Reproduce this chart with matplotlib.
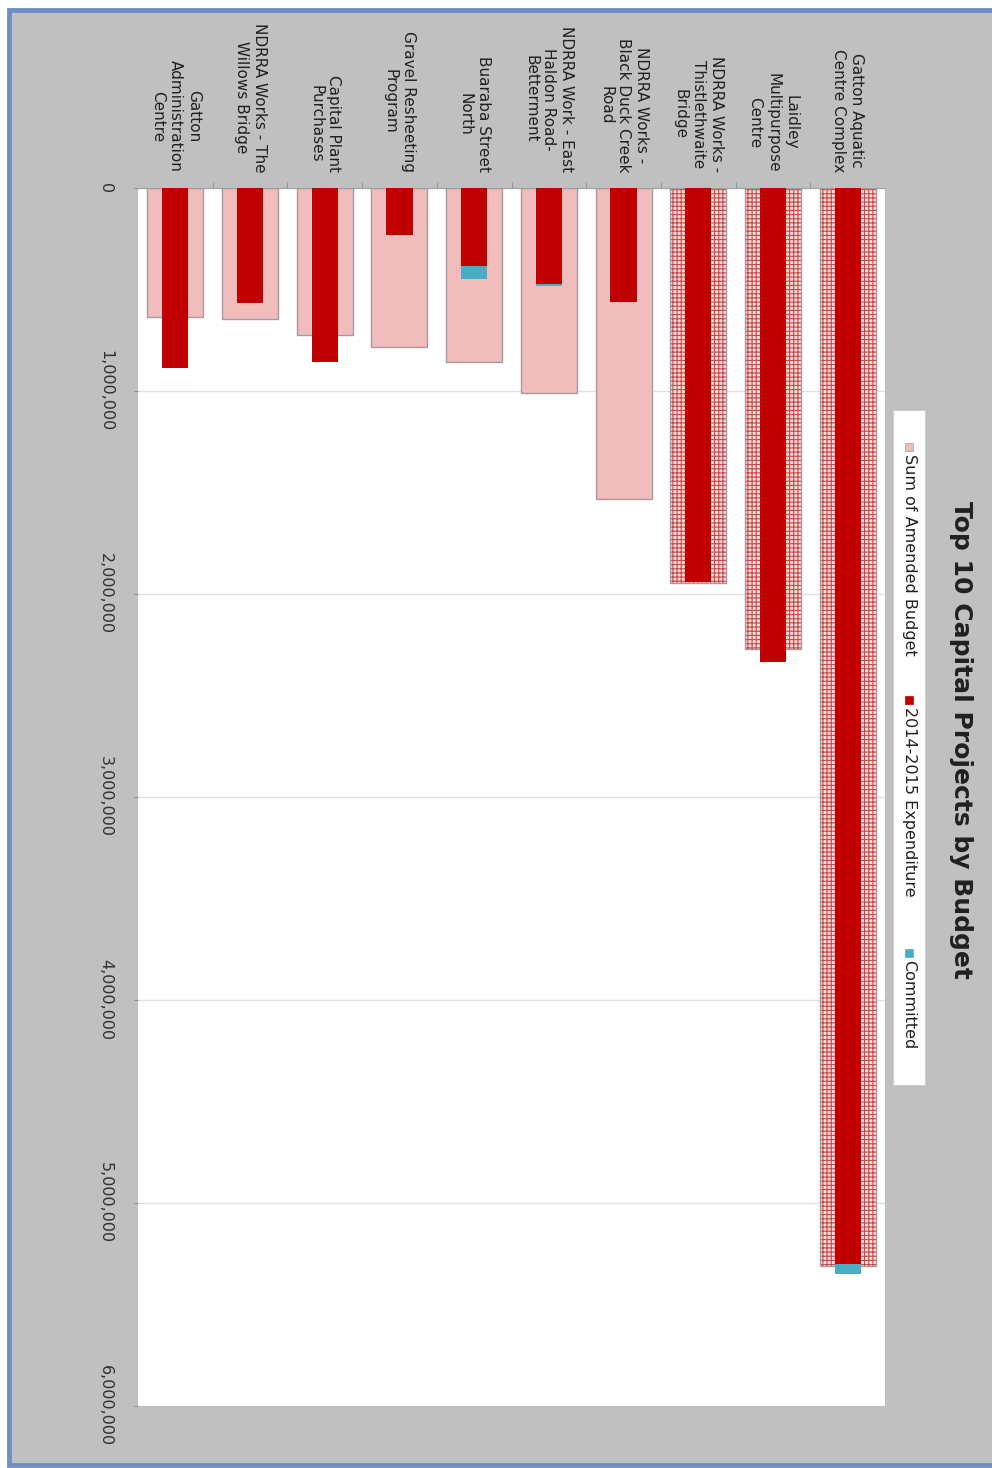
import matplotlib
matplotlib.use("Agg")
import matplotlib.pyplot as plt
from matplotlib.patches import Rectangle
from matplotlib.ticker import FuncFormatter
import numpy as np

# Top 10 capital projects
projects = [
    "Gatton Aquatic\nCentre Complex",
    "Laidley\nMultipurpose\nCentre",
    "NDRRA Works -\nThistlethwaite\nBridge",
    "NDRRA Works -\nBlack Duck Creek\nRoad",
    "NDRRA Work - East\nHaldon Road-\nBetterment",
    "Buaraba Street\nNorth",
    "Gravel Resheeting\nProgram",
    "Capital Plant\nPurchases",
    "NDRRA Works - The\nWillows Bridge",
    "Gatton\nAdministration\nCentre",
]
amended_budget = [5310000, 2270000, 1945000, 1530000, 1010000, 855000, 785000, 725000, 645000, 635000]
expenditure = [5300000, 2335000, 1940000, 560000, 475000, 385000, 230000, 855000, 565000, 885000]
committed = [50000, 0, 0, 0, 10000, 65000, 0, 0, 0, 0]
hatched = [True, True, True, False, False, False, False, False, False, False]
series_names = ["Sum of Amended Budget", "2014-2015 Expenditure", "Committed"]
value_ticks = [0, 1000000, 2000000, 3000000, 4000000, 5000000, 6000000]
title = "Top 10 Capital Projects by Budget"

W, H = 992, 1468
BG = "#c0c0c0"
PINK = "#f0bcbc"
RED = "#c00000"
BLUE = "#4bacc6"


def fx(px):
    return px / W


def fy(py):
    # py measured from the top of the picture
    return 1 - py / H


plt.rcParams["font.family"] = "DejaVu Sans"
plt.rcParams["hatch.linewidth"] = 0.8

fig = plt.figure(figsize=(W / 100, H / 100), dpi=100)
fig.patch.set_facecolor("white")
fig.add_artist(Rectangle((fx(9), fy(1465)), fx(1100), fy(10) - fy(1465),
                         transform=fig.transFigure, facecolor=BG,
                         edgecolor="#6f8fc4", linewidth=3.5, zorder=0))

ax = fig.add_axes([fx(138), fy(1406), fx(885) - fx(138), fy(188) - fy(1406)])
ax.set_facecolor("white")

x = np.arange(len(projects))
for i in x:
    if hatched[i]:
        ax.bar(i, amended_budget[i], width=0.75, color="#f8dcdc",
               edgecolor="#c84848", linewidth=0, hatch="++++", zorder=2)
        ax.bar(i, amended_budget[i], width=0.75, fill=False,
               edgecolor="#a89a9a", linewidth=1, zorder=2)
    else:
        ax.bar(i, amended_budget[i], width=0.75, color=PINK,
               edgecolor="#a89a9a", linewidth=1, zorder=2)
ax.bar(x, expenditure, width=0.35, color=RED, linewidth=0, zorder=3)
ax.bar(x, committed, width=0.35, bottom=expenditure, color=BLUE, linewidth=0, zorder=3)

ax.set_xlim(len(projects) - 0.5, -0.5)
ax.set_ylim(6000000, 0)
ax.set_yticks(value_ticks)
ax.yaxis.set_major_formatter(FuncFormatter(lambda v, p: f"{v:,.0f}"))
ax.tick_params(axis="y", length=3, color="#909090", pad=15, labelsize=11.5,
               labelcolor="#303030")
for lab in ax.get_yticklabels():
    lab.set_rotation(-90)
    lab.set_va("center")
ax.yaxis.grid(True, color="#e0e0e0", linewidth=1, zorder=0)
ax.set_axisbelow(True)

ax.set_xticks([])
ax.set_xticks(x[:-1] + 0.5, minor=True)
ax.xaxis.set_ticks_position("top")
ax.tick_params(axis="x", which="minor", length=4, color="#909090", top=True, bottom=False)
for name, sp in ax.spines.items():
    sp.set_visible(name == "top")
ax.spines["top"].set_color("#a0a0a0")

for i, label in enumerate(projects):
    ax.text(i, 1.013, label, transform=ax.get_xaxis_transform(), rotation=-90,
            ha="center", va="bottom", multialignment="center", fontsize=11,
            linespacing=1.25, color="#202020")

fig.text(fx(961), fy(740), title, rotation=-90, ha="center", va="center",
         fontsize=18, fontweight="bold", color="#202020")

# hand-made rotated legend
fig.add_artist(Rectangle((fx(893), fy(1085)), fx(32), fy(410) - fy(1085),
                         transform=fig.transFigure, facecolor="white",
                         edgecolor="#d0d0d0", linewidth=0.8, zorder=1))
legend_y = [447, 700, 953]
legend_colors = [PINK, RED, BLUE]
for name, ly, col in zip(series_names, legend_y, legend_colors):
    fig.add_artist(Rectangle((fx(905), fy(ly + 4)), fx(8), fy(ly - 4) - fy(ly + 4),
                             transform=fig.transFigure, facecolor=col,
                             edgecolor="#a0a0a0" if col == PINK else col,
                             linewidth=0.5, zorder=2))
    fig.text(fx(909), fy(ly + 7), name, rotation=-90, ha="center", va="top",
             fontsize=11.5, color="#202020", zorder=3)

fig.savefig("out.png", dpi=100, facecolor=fig.get_facecolor())
